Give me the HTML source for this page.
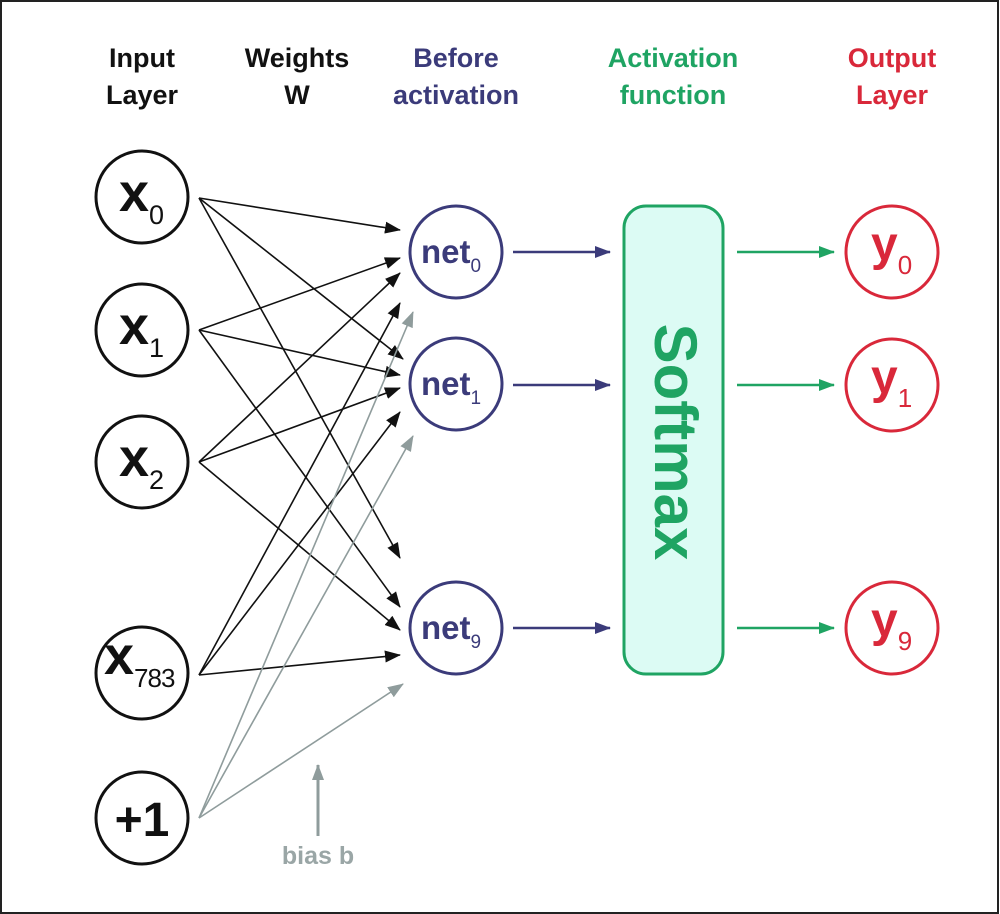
<!DOCTYPE html>
<html><head><meta charset="utf-8"><style>
html,body{margin:0;padding:0;background:#fff}
svg{display:block}
text{font-family:"Liberation Sans",sans-serif;font-weight:bold}
</style></head><body>
<svg width="1000" height="914" viewBox="0 0 1000 914" xmlns="http://www.w3.org/2000/svg">
<defs>
<marker id="ak" markerUnits="userSpaceOnUse" markerWidth="16" markerHeight="12" refX="15" refY="6" orient="auto"><path d="M0,0 L16,6 L0,12 Z" fill="#111"/></marker>
<marker id="ag" markerUnits="userSpaceOnUse" markerWidth="16" markerHeight="12" refX="15" refY="6" orient="auto"><path d="M0,0 L16,6 L0,12 Z" fill="#8f9c9c"/></marker>
<marker id="an" markerUnits="userSpaceOnUse" markerWidth="16" markerHeight="12" refX="15" refY="6" orient="auto"><path d="M0,0 L16,6 L0,12 Z" fill="#3b3b7a"/></marker>
<marker id="agr" markerUnits="userSpaceOnUse" markerWidth="16" markerHeight="12" refX="15" refY="6" orient="auto"><path d="M0,0 L16,6 L0,12 Z" fill="#1fa463"/></marker>
</defs>
<rect x="1" y="1" width="997" height="912" fill="#fff" stroke="#222" stroke-width="2"/>

<g font-size="27" text-anchor="middle">
<text x="142" y="67" fill="#111">Input</text><text x="142" y="104" fill="#111">Layer</text>
<text x="297" y="67" fill="#111">Weights</text><text x="297" y="104" fill="#111">W</text>
<text x="456" y="67" fill="#3b3b7a">Before</text><text x="456" y="104" fill="#3b3b7a">activation</text>
<text x="673" y="67" fill="#1fa463">Activation</text><text x="673" y="104" fill="#1fa463">function</text>
<text x="892" y="67" fill="#d9283a">Output</text><text x="892" y="104" fill="#d9283a">Layer</text>
</g>

<g stroke="#111" stroke-width="1.6" marker-end="url(#ak)">
<line x1="199" y1="198" x2="400" y2="230"/>
<line x1="199" y1="198" x2="403" y2="359"/>
<line x1="199" y1="198" x2="400" y2="558"/>
<line x1="199" y1="330" x2="400" y2="258"/>
<line x1="199" y1="330" x2="400" y2="375"/>
<line x1="199" y1="330" x2="400" y2="607"/>
<line x1="199" y1="462" x2="400" y2="273"/>
<line x1="199" y1="462" x2="400" y2="388"/>
<line x1="199" y1="462" x2="400" y2="630"/>
<line x1="199" y1="675" x2="400" y2="303"/>
<line x1="199" y1="675" x2="400" y2="412"/>
<line x1="199" y1="675" x2="400" y2="655"/>
</g>
<g stroke="#8f9c9c" stroke-width="1.6" marker-end="url(#ag)">
<line x1="199" y1="818" x2="413" y2="312"/>
<line x1="199" y1="818" x2="413" y2="436"/>
<line x1="199" y1="818" x2="403" y2="684"/>
<line x1="318" y1="836" x2="318" y2="765" stroke-width="3"/>
</g>
<text x="318" y="864" font-size="25" fill="#9aa6a6" text-anchor="middle">bias b</text>

<g fill="#fff" stroke="#111" stroke-width="3">
<circle cx="142" cy="197" r="46"/><circle cx="142" cy="330" r="46"/><circle cx="142" cy="462" r="46"/><circle cx="142" cy="673" r="46"/><circle cx="142" cy="818" r="46"/>
</g>
<g fill="#111">
<text x="119" y="211" font-size="54">x<tspan font-size="27" font-weight="normal" dy="13">0</tspan></text>
<text x="119" y="344" font-size="54">x<tspan font-size="27" font-weight="normal" dy="13">1</tspan></text>
<text x="119" y="476" font-size="54">x<tspan font-size="27" font-weight="normal" dy="13">2</tspan></text>
<text x="104" y="674" font-size="54">x<tspan font-size="26" font-weight="normal" dy="13" letter-spacing="-1">783</tspan></text>
<text x="142" y="836" font-size="48" text-anchor="middle">+1</text>
</g>

<g fill="#fff" stroke="#3b3b7a" stroke-width="3">
<circle cx="456" cy="252" r="46"/><circle cx="456" cy="384" r="46"/><circle cx="456" cy="628" r="46"/>
</g>
<g fill="#3b3b7a" font-size="33">
<text x="421" y="263">net<tspan font-size="19" font-weight="normal" dy="9">0</tspan></text>
<text x="421" y="395">net<tspan font-size="19" font-weight="normal" dy="9">1</tspan></text>
<text x="421" y="639">net<tspan font-size="19" font-weight="normal" dy="9">9</tspan></text>
</g>
<g stroke="#3b3b7a" stroke-width="2.5" marker-end="url(#an)">
<line x1="513" y1="252" x2="610" y2="252"/>
<line x1="513" y1="385" x2="610" y2="385"/>
<line x1="513" y1="628" x2="610" y2="628"/>
</g>

<rect x="624" y="206" width="99" height="468" rx="22" fill="#dcfbf4" stroke="#1fa463" stroke-width="3"/>
<text transform="translate(655,442) rotate(90)" font-size="60" fill="#1fa463" text-anchor="middle">Softmax</text>

<g stroke="#1fa463" stroke-width="2.5" marker-end="url(#agr)">
<line x1="737" y1="252" x2="834" y2="252"/>
<line x1="737" y1="385" x2="834" y2="385"/>
<line x1="737" y1="628" x2="834" y2="628"/>
</g>

<g fill="#fff" stroke="#d9283a" stroke-width="3">
<circle cx="892" cy="252" r="46"/><circle cx="892" cy="385" r="46"/><circle cx="892" cy="628" r="46"/>
</g>
<g fill="#d9283a" font-size="48">
<text x="871" y="260">y<tspan font-size="26" font-weight="normal" dy="14">0</tspan></text>
<text x="871" y="393">y<tspan font-size="26" font-weight="normal" dy="14">1</tspan></text>
<text x="871" y="636">y<tspan font-size="26" font-weight="normal" dy="14">9</tspan></text>
</g>
</svg>
</body></html>
